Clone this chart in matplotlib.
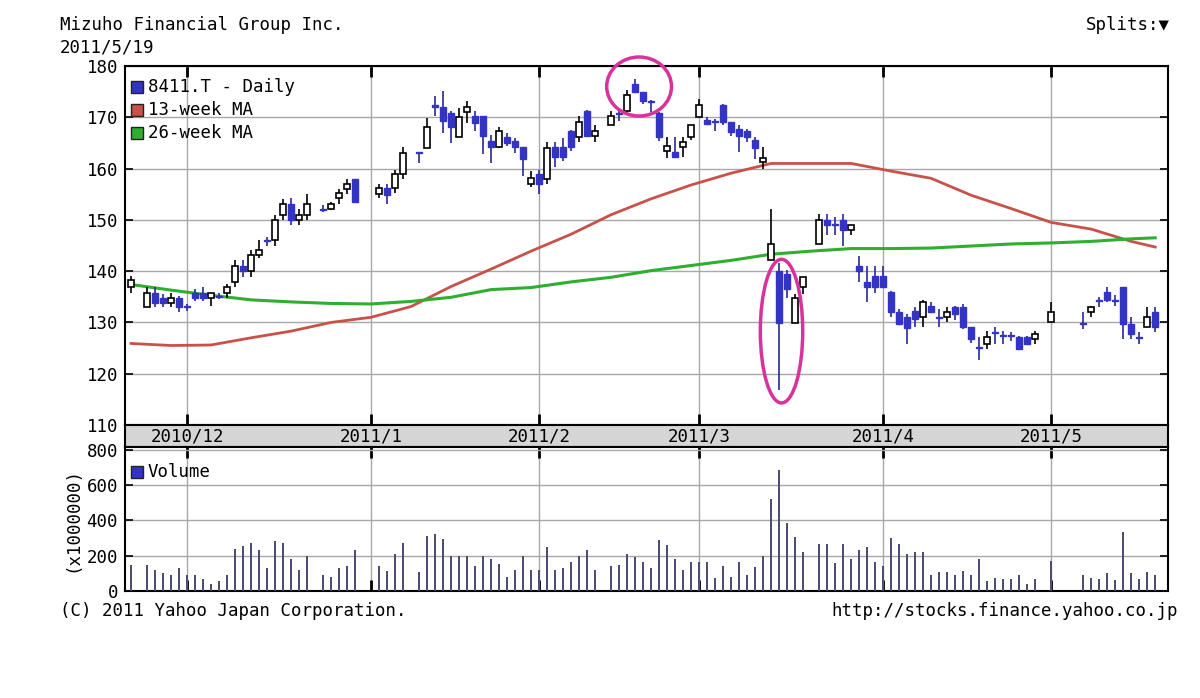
import numpy as np
import matplotlib
matplotlib.use('Agg')
import matplotlib.pyplot as plt
from matplotlib.patches import Rectangle, Ellipse

# --- daily candles (8411.T) ---
dates = [
    '2010-11-22', '2010-11-24', '2010-11-25', '2010-11-26', '2010-11-29', '2010-11-30',
    '2010-12-01', '2010-12-02', '2010-12-03', '2010-12-06', '2010-12-07', '2010-12-08', '2010-12-09',
    '2010-12-10', '2010-12-13', '2010-12-14', '2010-12-15', '2010-12-16', '2010-12-17', '2010-12-20',
    '2010-12-21', '2010-12-22', '2010-12-24', '2010-12-27', '2010-12-28', '2010-12-29', '2010-12-30',
    '2011-01-04', '2011-01-05', '2011-01-06', '2011-01-07', '2011-01-11', '2011-01-12', '2011-01-13',
    '2011-01-14', '2011-01-17', '2011-01-18', '2011-01-19', '2011-01-20', '2011-01-21', '2011-01-24',
    '2011-01-25', '2011-01-26', '2011-01-27', '2011-01-28', '2011-01-31',
    '2011-02-01', '2011-02-02', '2011-02-03', '2011-02-04', '2011-02-07', '2011-02-08', '2011-02-09',
    '2011-02-10', '2011-02-14', '2011-02-15', '2011-02-16', '2011-02-17', '2011-02-18', '2011-02-21',
    '2011-02-22', '2011-02-23', '2011-02-24', '2011-02-25', '2011-02-28',
    '2011-03-01', '2011-03-02', '2011-03-03', '2011-03-04', '2011-03-07', '2011-03-08', '2011-03-09',
    '2011-03-10', '2011-03-11', '2011-03-14', '2011-03-15', '2011-03-16', '2011-03-17', '2011-03-18',
    '2011-03-22', '2011-03-23', '2011-03-24', '2011-03-25', '2011-03-28', '2011-03-29', '2011-03-30',
    '2011-03-31',
    '2011-04-01', '2011-04-04', '2011-04-05', '2011-04-06', '2011-04-07', '2011-04-08', '2011-04-11',
    '2011-04-12', '2011-04-13', '2011-04-14', '2011-04-15', '2011-04-18', '2011-04-19', '2011-04-20',
    '2011-04-21', '2011-04-22', '2011-04-25', '2011-04-26', '2011-04-27', '2011-04-28',
    '2011-05-02', '2011-05-06', '2011-05-09', '2011-05-10', '2011-05-11', '2011-05-12', '2011-05-13',
    '2011-05-16', '2011-05-17', '2011-05-18', '2011-05-19',
]
opens = [
    137.0, 133.0, 135.8, 134.8, 133.8, 134.8,
    133.2, 135.8, 135.8, 134.8, 135.2, 135.8, 137.9, 141.1, 140.0, 143.2, 146.1, 146.0, 151.0, 153.1,
    150.0, 151.0, 152.2, 152.1, 154.2, 156.0, 158.0,
    155.1, 156.2, 156.2, 159.0, 163.2, 164.0, 172.3, 172.1, 170.8, 166.1, 171.0, 170.2, 170.2, 165.3,
    164.2, 166.1, 165.3, 164.2, 157.0,
    158.9, 158.0, 164.3, 164.3, 167.4, 166.1, 171.3, 166.4, 168.4, 170.9, 171.2, 176.5, 175.0, 173.2,
    170.8, 163.4, 163.3, 164.2, 166.1,
    170.0, 169.5, 169.3, 172.3, 169.0, 167.7, 167.4, 165.5, 161.2, 142.1, 140.0, 139.5, 129.9, 136.9,
    145.3, 150.0, 149.1, 150.0, 148.0, 141.1, 137.9, 139.0,
    139.0, 135.9, 132.0, 131.0, 132.3, 131.0, 133.3, 131.1, 131.0, 133.0, 133.0, 129.1, 125.3, 125.8,
    128.2, 127.6, 127.6, 127.1, 127.1, 126.8,
    130.0, 129.8, 132.0, 134.4, 135.9, 134.4, 136.9, 129.7, 127.2, 129.1, 132.0,
]
highs = [
    139.0, 136.9, 136.9, 135.6, 135.8, 135.2,
    133.6, 136.6, 136.9, 135.3, 135.8, 137.5, 142.2, 142.2, 144.2, 146.0, 146.6, 151.0, 154.1, 154.2,
    152.1, 155.1, 152.8, 153.5, 156.0, 158.0, 158.0,
    156.9, 156.9, 159.8, 164.2, 163.3, 169.9, 174.1, 175.2, 171.2, 171.8, 173.1, 171.2, 170.2, 166.6,
    168.2, 166.9, 165.9, 164.2, 159.6,
    159.8, 165.1, 165.1, 166.0, 167.5, 170.3, 171.5, 168.4, 171.3, 171.8, 175.3, 177.5, 175.0, 173.4,
    171.0, 166.2, 166.1, 166.2, 168.4,
    173.5, 170.0, 169.7, 172.6, 169.0, 168.4, 167.7, 166.1, 164.3, 152.1, 141.5, 140.2, 135.5, 138.8,
    151.2, 151.2, 150.5, 151.2, 149.0, 143.0, 141.1, 141.1,
    141.1, 136.2, 132.6, 131.7, 133.0, 134.3, 134.0, 132.6, 133.0, 133.3, 133.6, 129.1, 127.1, 128.4,
    129.1, 128.4, 128.1, 127.4, 127.4, 128.4,
    134.0, 132.0, 133.3, 135.0, 136.9, 135.3, 136.9, 131.0, 128.1, 133.0, 133.0,
]
lows = [
    135.8, 133.0, 133.0, 133.0, 133.0, 132.0,
    132.2, 134.2, 134.2, 133.2, 134.6, 134.8, 136.9, 138.8, 138.8, 142.5, 145.0, 145.0, 150.0, 148.9,
    148.9, 150.0, 151.5, 152.0, 153.1, 155.1, 153.5,
    154.3, 153.0, 155.3, 157.9, 161.1, 164.0, 170.2, 167.0, 165.0, 166.1, 168.9, 167.3, 162.9, 161.1,
    164.0, 164.4, 163.1, 158.5, 156.4,
    155.1, 157.0, 160.3, 161.5, 163.5, 165.1, 166.1, 165.1, 168.4, 169.2, 170.8, 174.9, 172.5, 171.0,
    165.3, 162.0, 162.0, 162.2, 165.6,
    170.0, 168.4, 167.3, 168.4, 166.4, 163.2, 165.1, 161.9, 160.0, 142.1, 116.8, 134.8, 129.9, 135.6,
    145.3, 147.0, 147.0, 145.0, 147.0, 137.9, 134.0, 135.8,
    136.9, 131.0, 129.5, 125.8, 129.1, 129.1, 132.0, 129.1, 130.0, 130.5, 128.8, 126.0, 122.6, 124.9,
    125.8, 125.8, 126.4, 124.9, 125.8, 125.8,
    130.0, 128.8, 131.0, 133.0, 134.0, 133.3, 126.8, 126.8, 125.8, 129.1, 128.1,
]
closes = [
    138.2, 135.8, 133.8, 133.8, 134.8, 133.0,
    133.0, 134.8, 134.8, 135.8, 135.0, 136.9, 141.1, 140.0, 143.2, 144.2, 145.9, 150.0, 153.1, 150.0,
    151.0, 153.1, 152.0, 153.1, 155.2, 157.0, 153.5,
    156.2, 154.9, 159.0, 163.1, 163.0, 168.2, 172.0, 169.2, 168.2, 170.0, 172.1, 168.9, 166.3, 164.2,
    167.3, 165.0, 164.2, 161.8, 158.1,
    156.9, 164.0, 162.2, 162.3, 164.2, 169.0, 166.4, 167.4, 170.3, 170.7, 174.3, 175.0, 173.2, 173.0,
    166.1, 164.4, 162.2, 165.1, 168.4,
    172.3, 168.6, 169.1, 169.0, 167.1, 166.4, 166.1, 164.0, 162.1, 145.3, 129.9, 136.6, 134.8, 138.8,
    150.0, 148.9, 148.9, 148.0, 148.9, 140.0, 136.9, 136.9,
    136.9, 132.0, 129.7, 128.9, 130.7, 134.0, 132.0, 130.9, 132.0, 131.7, 129.1, 126.8, 125.1, 127.1,
    128.0, 127.4, 127.4, 124.9, 125.8, 127.8,
    132.0, 129.6, 133.0, 134.2, 134.3, 134.2, 129.7, 127.8, 127.0, 131.0, 129.1,
]
# volume in units of 1,000,000 shares
volumes = [
    149, 149, 121, 101, 88, 130,
    92, 88, 69, 38, 57, 88, 241, 255, 270, 232, 130, 283, 270, 182, 119, 199, 90, 80, 128, 140, 234,
    140, 111, 211, 272, 109, 314, 323, 293, 201, 197, 197, 144, 197, 182, 153, 82, 121, 197, 121,
    121, 251, 121, 130, 162, 199, 233, 121, 143, 149, 210, 195, 162, 130, 288, 260, 180, 121, 162,
    163, 163, 74, 144, 82, 163, 92, 134, 201, 522, 685, 385, 306, 224, 264, 264, 159, 264, 182, 232,
    251, 163,
    144, 302, 264, 211, 222, 222, 92, 107, 107, 92, 111, 92, 182, 54, 73, 69, 69, 88, 38, 69,
    172, 92, 73, 69, 101, 63, 335, 101, 69, 107, 92,
]

# --- moving averages ---
ma_dates = [
    '2010-11-22', '2010-11-29', '2010-12-06', '2010-12-13', '2010-12-20', '2010-12-27',
    '2011-01-03', '2011-01-10', '2011-01-17', '2011-01-24', '2011-01-31', '2011-02-07',
    '2011-02-14', '2011-02-21', '2011-02-28', '2011-03-07', '2011-03-14', '2011-03-21',
    '2011-03-28', '2011-04-04', '2011-04-11', '2011-04-18', '2011-04-25', '2011-05-02',
    '2011-05-09', '2011-05-16', '2011-05-19',
]
ma13 = [125.9, 125.5, 125.6, 127.0, 128.3, 130.0, 131.0, 133.1, 137.0, 140.4, 143.9, 147.2, 151.0,
        154.1, 156.8, 159.1, 161.0, 161.0, 161.0, 159.5, 158.1, 154.8, 152.2, 149.5, 148.2, 145.8,
        144.7]
ma26 = [137.4, 136.3, 135.3, 134.4, 134.0, 133.7, 133.6, 134.1, 134.9, 136.4, 136.8, 137.9, 138.8,
        140.1, 141.1, 142.1, 143.3, 143.9, 144.4, 144.4, 144.5, 144.9, 145.3, 145.5, 145.8, 146.3,
        146.5]

month_starts = ['2010-12-01', '2011-01-03', '2011-02-01', '2011-03-01', '2011-04-01', '2011-05-02']
month_labels = ['2010/12', '2011/1', '2011/2', '2011/3', '2011/4', '2011/5']

# circled spots (hand-drawn marks on the original)
circle_date, circle_price = '2011-02-17', 176.0
oval_date, oval_price = '2011-03-15', 128.3

BLUE = '#3333c8'
WICK_BLUE = '#2a2a8c'
RED = '#c8524a'
GREEN = '#2fae2f'
MAGENTA = '#d8329c'
GRID = '#a8a8a8'

plt.rcParams['font.family'] = ['DejaVu Sans Mono', 'DejaVu Sans']
plt.rcParams['font.size'] = 12.5

W, H = 1200, 698
ORIGIN = np.datetime64('2010-12-01')


def slot(d):
    # position = weekday count from 2010-12-01; market holidays stay empty
    return np.busday_count(ORIGIN, np.array(d, dtype='datetime64[D]'))


x = slot(dates)
xm = slot(ma_dates)
xmon = slot(month_starts)
o, h, lo, c = map(np.array, (opens, highs, lows, closes))
up = c >= o

fig = plt.figure(figsize=(W / 100, H / 100), dpi=100)
L, R = 125, 1168


def box(top, bottom):
    return [L / W, 1 - bottom / H, (R - L) / W, (bottom - top) / H]


ax = fig.add_axes(box(66, 425))
band = fig.add_axes(box(425, 447))
axv = fig.add_axes(box(447, 591))
xlim = (-7.75, 122.6)

# price panel
ax.plot(xm, ma13, color=RED, lw=2, zorder=2)
ax.plot(xm, ma26, color=GREEN, lw=2.2, zorder=2)
ax.vlines(x[up], lo[up], h[up], color='black', lw=1.2, zorder=3)
ax.vlines(x[~up], lo[~up], h[~up], color=WICK_BLUE, lw=1.2, zorder=3)
body_h = np.maximum(np.abs(c - o), 0.12)
body_b = np.minimum(o, c)
ax.bar(x[up], body_h[up], bottom=body_b[up], width=0.8, facecolor='white',
       edgecolor='black', lw=1.2, zorder=4)
ax.bar(x[~up], body_h[~up], bottom=body_b[~up], width=0.8, facecolor=BLUE,
       edgecolor=BLUE, lw=1, zorder=4)

ax.add_patch(Ellipse((slot(circle_date) + 0.5, circle_price), 8.1, 11.5, fill=False,
                     edgecolor=MAGENTA, lw=2.5, clip_on=False, zorder=6))
ax.add_patch(Ellipse((slot(oval_date) + 0.3, oval_price), 5.3, 28.0, fill=False,
                     edgecolor=MAGENTA, lw=2.5, clip_on=False, zorder=6))

ax.set_xlim(xlim)
ax.set_ylim(110, 180)
ax.set_yticks(range(110, 181, 10))
ax.set_xticks(xmon)
ax.set_xticklabels([])
ax.grid(True, color=GRID, lw=1, zorder=0)
ax.set_axisbelow(True)
ax.tick_params(axis='y', direction='in', length=6, width=1.2, left=True, right=True, pad=5)
ax.tick_params(axis='x', direction='in', length=8, width=2, top=True, bottom=True)
for s in ax.spines.values():
    s.set_linewidth(1.5)

# date band
band.set_facecolor('#d5d5d5')
band.set_xlim(xlim)
band.set_ylim(0, 1)
band.set_xticks([])
band.set_yticks([])
for xi, lab in zip(xmon, month_labels):
    band.text(xi, 0.5, lab, ha='center', va='center')
for s in band.spines.values():
    s.set_linewidth(1.5)

# volume panel
axv.bar(x, volumes, width=0.3, color='#4e4e72', zorder=3)
axv.set_xlim(xlim)
axv.set_ylim(0, 817)
axv.set_yticks(range(0, 801, 200))
axv.set_xticks(xmon)
axv.set_xticklabels([])
axv.grid(True, color=GRID, lw=1, zorder=0)
axv.set_axisbelow(True)
axv.tick_params(axis='y', direction='in', length=6, width=1.2, left=True, right=True, pad=5)
axv.tick_params(axis='x', direction='in', length=8, width=2, top=True, bottom=True)
for s in axv.spines.values():
    s.set_linewidth(1.5)

# legends drawn as small squares + text
def legend_row(py, color, label):
    fig.patches.append(Rectangle((131 / W, 1 - (py + 6) / H), 12 / W, 12 / H,
                                 facecolor=color, edgecolor='#222222', lw=1,
                                 transform=fig.transFigure, zorder=10))
    fig.text(148 / W, 1 - py / H, label, va='center', ha='left', zorder=10)


legend_row(87, BLUE, '8411.T - Daily')
legend_row(110, RED, '13-week MA')
legend_row(133, GREEN, '26-week MA')
legend_row(472, BLUE, 'Volume')

# header / footer text
fig.text(60 / W, 1 - 25 / H, 'Mizuho Financial Group Inc.', va='center', ha='left')
fig.text(60 / W, 1 - 47 / H, '2011/5/19', va='center', ha='left')
fig.text(1170 / W, 1 - 25 / H, 'Splits:\u25bc', va='center', ha='right')
fig.text(72 / W, 1 - 520 / H, '(x1000000)', va='center', ha='center', rotation=90)
fig.text(60 / W, 1 - 611 / H, '(C) 2011 Yahoo Japan Corporation.', va='center', ha='left')
fig.text(1178 / W, 1 - 611 / H, 'http://stocks.finance.yahoo.co.jp', va='center', ha='right')

fig.savefig('out.png', dpi=100, facecolor='white')
